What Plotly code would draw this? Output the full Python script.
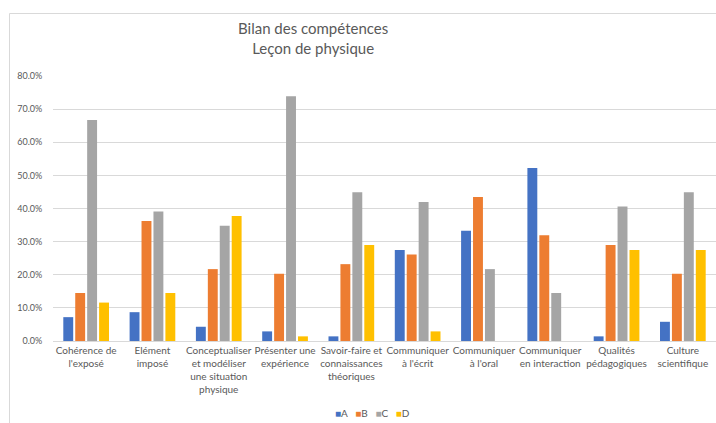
import plotly.graph_objects as go

categories = [
    "Cohérence de<br>l'exposé",
    "Elément<br>imposé",
    "Conceptualiser<br>et modéliser<br>une situation<br>physique",
    "Présenter une<br>expérience",
    "Savoir-faire et<br>connaissances<br>théoriques",
    "Communiquer<br>à l'écrit",
    "Communiquer<br>à l'oral",
    "Communiquer<br>en interaction",
    "Qualités<br>pédagogiques",
    "Culture<br>scientifique",
]
series_names = ["A", "B", "C", "D"]
values_A = [7.2, 8.7, 4.3, 2.9, 1.4, 27.5, 33.3, 52.2, 1.4, 5.8]
values_B = [14.5, 36.2, 21.7, 20.3, 23.2, 26.1, 43.5, 31.9, 29.0, 20.3]
values_C = [66.7, 39.1, 34.8, 73.9, 44.9, 42.0, 21.7, 14.5, 40.6, 44.9]
values_D = [11.6, 14.5, 37.7, 1.4, 29.0, 2.9, 0.0, 0.0, 27.5, 27.5]
colors = ["#4472C4", "#ED7D31", "#A5A5A5", "#FFC000"]
y_ticks = [0, 10, 20, 30, 40, 50, 60, 70, 80]

W, H = 716, 423
ml, mr, mt, mb = 53, 0, 76, 82
pw, ph = W - ml - mr, H - mt - mb

fig = go.Figure()
for name, vals, col in zip(series_names, [values_A, values_B, values_C, values_D], colors):
    fig.add_trace(go.Bar(name=name, x=categories, y=vals, showlegend=False,
                         marker=dict(color=col, line=dict(width=0))))

font_fam = "Lato, Open Sans, sans-serif"
legend_text = "&nbsp;&nbsp;&nbsp;".join(
    f"<span style='color:{c}'>■</span>{n}" for n, c in zip(series_names, colors))

fig.update_layout(
    width=W, height=H,
    margin=dict(l=ml, r=mr, t=mt, b=mb, pad=0),
    paper_bgcolor="white", plot_bgcolor="white",
    barmode="group", bargap=0.28, bargroupgap=0.17,
    font=dict(family=font_fam, size=9, color="#595959"),
    showlegend=False,
    xaxis=dict(showgrid=False, showline=True, linecolor="#D9D9D9", linewidth=1,
               ticks="", tickfont=dict(size=10, color="#595959"), tickangle=0,
               fixedrange=True),
    yaxis=dict(range=[0, 80], tickvals=y_ticks, ticktext=[f"{v:.1f}%" for v in y_ticks],
               showgrid=True, gridcolor="#D9D9D9", gridwidth=1, zeroline=False,
               showline=False, ticks="outside", ticklen=8, tickcolor="rgba(0,0,0,0)",
               tickfont=dict(size=9, color="#595959")),
    annotations=[
        dict(text="Bilan des compétences<br>Leçon de physique", xref="paper", yref="paper",
             x=(313 - ml) / pw, y=(H - mb - 38) / ph, xanchor="center", yanchor="middle",
             showarrow=False, font=dict(size=15, color="#595959", family=font_fam)),
        dict(text=legend_text, xref="paper", yref="paper",
             x=(372 - ml) / pw, y=(H - mb - 413) / ph, xanchor="center", yanchor="middle",
             showarrow=False, font=dict(size=10, color="#595959", family=font_fam)),
    ],
    shapes=[dict(type="rect", xref="paper", yref="paper",
                 x0=(9.5 - ml) / pw, x1=(730 - ml) / pw,
                 y0=(H - mb - 440) / ph, y1=(H - mb - 13.5) / ph,
                 line=dict(color="#D9D9D9", width=1), fillcolor="rgba(0,0,0,0)", layer="below")],
)

fig.write_html("out.html", config={"displayModeBar": False},
               post_script="document.body.style.margin='0';document.body.style.overflow='hidden';")
